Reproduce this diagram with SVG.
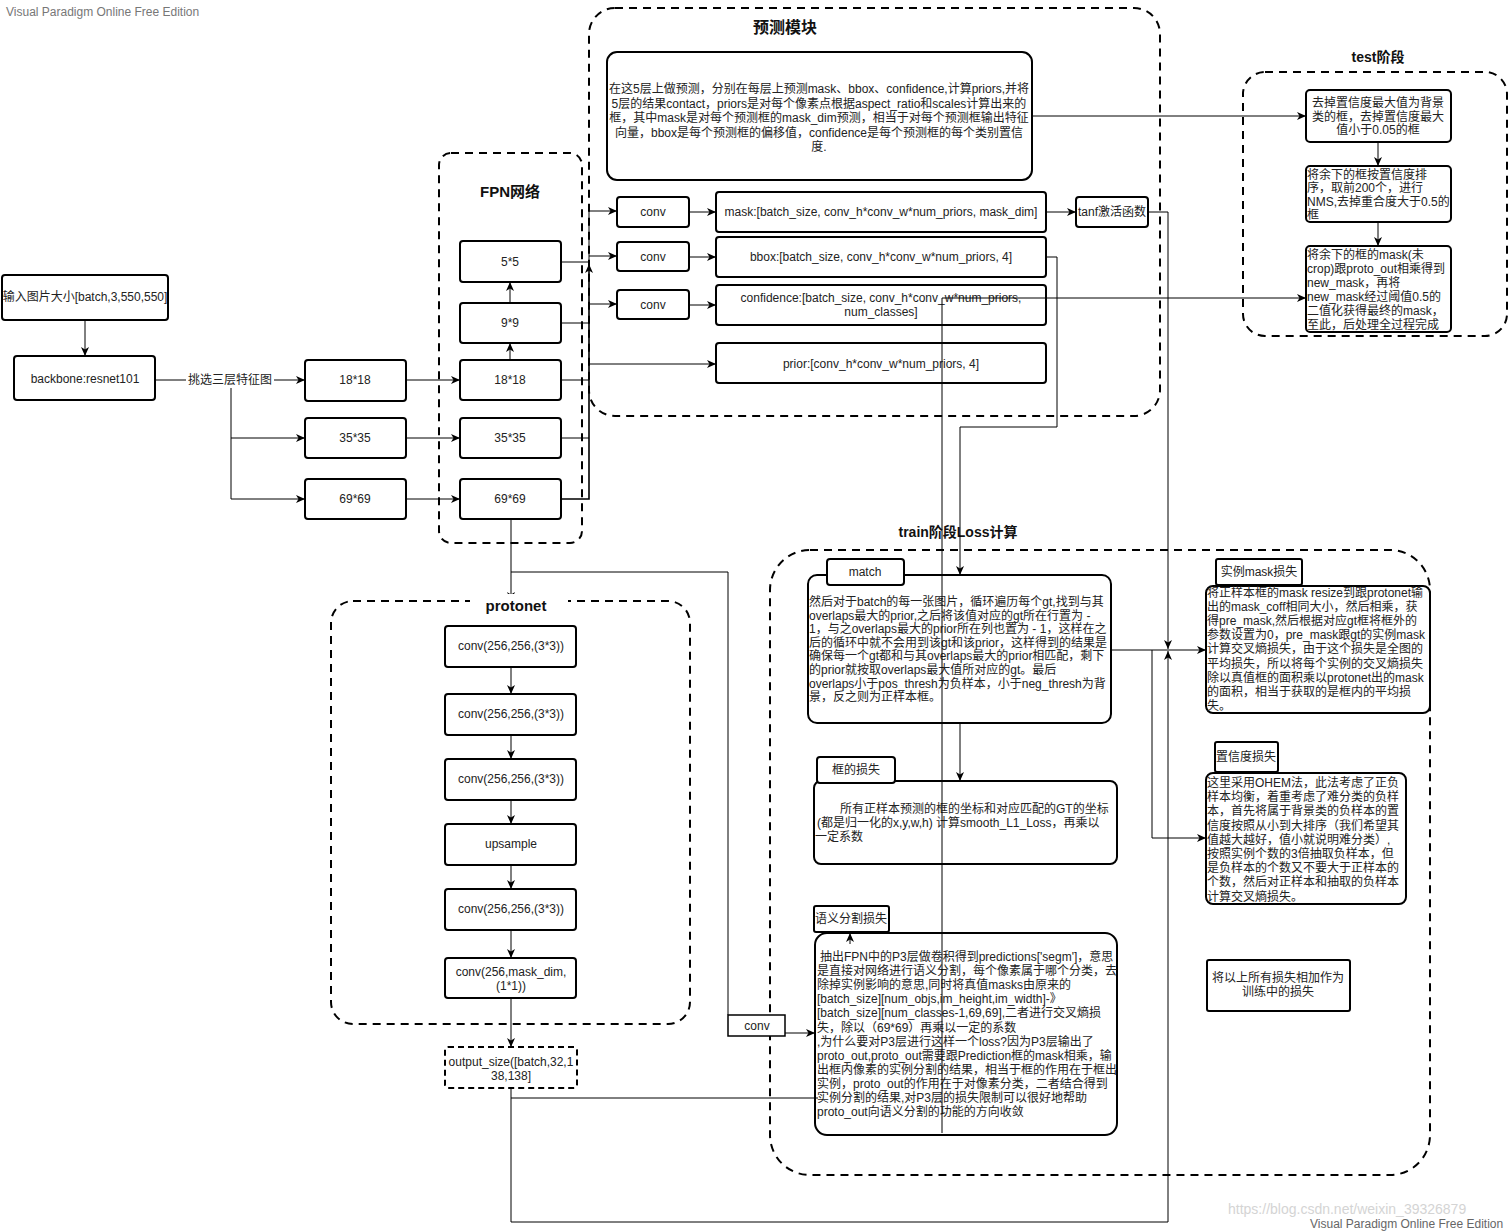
<svg xmlns="http://www.w3.org/2000/svg" width="1508" height="1232" viewBox="0 0 1508 1232">
<style>
.t{font-family:"Liberation Sans","Noto Sans CJK SC",sans-serif;font-size:12px;fill:#222}
.m{text-anchor:middle}
.h{font-weight:bold;fill:#111}
.box{fill:#fff;stroke:#000;stroke-width:2}
.dash{fill:none;stroke:#000;stroke-width:2;stroke-dasharray:8 6}
.ln{fill:none;stroke:#000;stroke-width:1}
.wm{font-family:"Liberation Sans",sans-serif;font-size:12px;fill:#777}
</style>
<defs>
<marker id="a" markerWidth="10" markerHeight="8" refX="9" refY="4" orient="auto" markerUnits="userSpaceOnUse"><path d="M0,0 L9,4 L0,8 L2.5,4 z" fill="#000"/></marker>
</defs>
<rect width="1508" height="1232" fill="#fff"/>
<text class="wm" x="6" y="16">Visual Paradigm Online Free Edition</text>

<!-- containers -->
<g id="fpn-group">
<rect class="dash" x="439" y="153" width="143" height="390" rx="12"/>
<text class="t h m" x="510" y="197" style="font-size:15px">FPN网络</text>
</g>
<g id="predict-group">
<rect class="dash" x="589" y="8" width="571" height="408" rx="26"/>
<text class="t h m" x="785" y="33" style="font-size:16px">预测模块</text>
</g>
<g id="test-group">
<rect class="dash" x="1243" y="72" width="264" height="264" rx="22"/>
<text class="t h m" x="1378" y="62" style="font-size:14px">test阶段</text>
</g>
<g id="train-group">
<rect class="dash" x="770" y="550" width="660" height="625" rx="40"/>
<text class="t h m" x="958" y="537" style="font-size:14px">train阶段Loss计算</text>
</g>
<g id="protonet-group">
<rect class="dash" x="331" y="601" width="359" height="423" rx="22"/>
</g>

<!-- nodes -->
<g id="input"><rect class="box" x="2" y="275" width="166" height="45" rx="3"/><text class="t m" x="85" y="301">输入图片大小[batch,3,550,550]</text></g>
<g id="backbone"><rect class="box" x="14" y="356" width="141" height="44" rx="3"/><text class="t m" x="85" y="383">backbone:resnet101</text></g>
<g id="c18"><rect class="box" x="305" y="360" width="101" height="41" rx="3"/><text class="t m" x="355" y="384">18*18</text></g>
<g id="c35"><rect class="box" x="305" y="418" width="101" height="40" rx="3"/><text class="t m" x="355" y="442">35*35</text></g>
<g id="c69"><rect class="box" x="305" y="479" width="101" height="40" rx="3"/><text class="t m" x="355" y="503">69*69</text></g>
<g id="p5"><rect class="box" x="460" y="241" width="101" height="41" rx="3"/><text class="t m" x="510" y="266">5*5</text></g>
<g id="p9"><rect class="box" x="460" y="303" width="101" height="40" rx="3"/><text class="t m" x="510" y="327">9*9</text></g>
<g id="p18"><rect class="box" x="460" y="360" width="101" height="40" rx="3"/><text class="t m" x="510" y="384">18*18</text></g>
<g id="p35"><rect class="box" x="460" y="418" width="101" height="40" rx="3"/><text class="t m" x="510" y="442">35*35</text></g>
<g id="p69"><rect class="box" x="460" y="479" width="101" height="40" rx="3"/><text class="t m" x="510" y="503">69*69</text></g>

<g id="desc"><rect class="box" x="607" y="52" width="425" height="128" rx="10"/>
<text class="t m" x="819" y="93">在这5层上做预测，分别在每层上预测mask、bbox、confidence,计算priors,并将</text>
<text class="t m" x="819" y="107.5">5层的结果contact，priors是对每个像素点根据aspect_ratio和scales计算出来的</text>
<text class="t m" x="819" y="122">框，其中mask是对每个预测框的mask_dim预测，相当于对每个预测框输出特征</text>
<text class="t m" x="819" y="136.5">向量，bbox是每个预测框的偏移值，confidence是每个预测框的每个类别置信</text>
<text class="t m" x="819" y="151">度.</text>
</g>
<g id="conv1"><rect class="box" x="617" y="197" width="72" height="30" rx="3"/><text class="t m" x="653" y="216">conv</text></g>
<g id="conv2"><rect class="box" x="617" y="242" width="72" height="29" rx="3"/><text class="t m" x="653" y="261">conv</text></g>
<g id="conv3"><rect class="box" x="617" y="290" width="72" height="29" rx="3"/><text class="t m" x="653" y="309">conv</text></g>
<g id="maskout"><rect class="box" x="716" y="192" width="330" height="40" rx="3"/><text class="t m" x="881" y="216">mask:[batch_size, conv_h*conv_w*num_priors, mask_dim]</text></g>
<g id="bboxout"><rect class="box" x="716" y="237" width="330" height="40" rx="3"/><text class="t m" x="881" y="261">bbox:[batch_size, conv_h*conv_w*num_priors, 4]</text></g>
<g id="confout"><rect class="box" x="716" y="285" width="330" height="40" rx="3"/><text class="t m" x="881" y="302">confidence:[batch_size, conv_h*conv_w*num_priors,</text><text class="t m" x="881" y="316">num_classes]</text></g>
<g id="priorout"><rect class="box" x="716" y="343" width="330" height="40" rx="3"/><text class="t m" x="881" y="368">prior:[conv_h*conv_w*num_priors, 4]</text></g>
<g id="tanh"><rect class="box" x="1076" y="197" width="72" height="30" rx="3"/><text class="t m" x="1112" y="216">tanf激活函数</text></g>

<g id="test1"><rect class="box" x="1306" y="90" width="145" height="52" rx="4"/>
<text class="t m" x="1378" y="107">去掉置信度最大值为背景</text><text class="t m" x="1378" y="121">类的框，去掉置信度最大</text><text class="t m" x="1378" y="134">值小于0.05的框</text></g>
<g id="test2"><rect class="box" x="1306" y="166" width="145" height="56" rx="4"/>
<text class="t" x="1307" y="179">将余下的框按置信度排</text><text class="t" x="1307" y="192">序，取前200个，进行</text><text class="t" x="1307" y="206">NMS,去掉重合度大于0.5的</text><text class="t" x="1307" y="219">框</text></g>
<g id="test3"><rect class="box" x="1306" y="246" width="145" height="86" rx="4"/>
<text class="t" x="1307" y="259">将余下的框的mask(未</text><text class="t" x="1307" y="273">crop)跟proto_out相乘得到</text><text class="t" x="1307" y="287">new_mask，再将</text><text class="t" x="1307" y="301">new_mask经过阈值0.5的</text><text class="t" x="1307" y="315">二值化获得最终的mask，</text><text class="t" x="1307" y="329">至此，后处理全过程完成</text></g>

<g id="pr1"><rect class="box" x="445" y="626" width="131" height="41" rx="3"/><text class="t m" x="511" y="650">conv(256,256,(3*3))</text></g>
<g id="pr2"><rect class="box" x="445" y="694" width="131" height="41" rx="3"/><text class="t m" x="511" y="718">conv(256,256,(3*3))</text></g>
<g id="pr3"><rect class="box" x="445" y="759" width="131" height="41" rx="3"/><text class="t m" x="511" y="783">conv(256,256,(3*3))</text></g>
<g id="pr4"><rect class="box" x="445" y="824" width="131" height="41" rx="3"/><text class="t m" x="511" y="848">upsample</text></g>
<g id="pr5"><rect class="box" x="445" y="889" width="131" height="41" rx="3"/><text class="t m" x="511" y="913">conv(256,256,(3*3))</text></g>
<g id="pr6"><rect class="box" x="445" y="958" width="131" height="40" rx="3"/><text class="t m" x="511" y="976">conv(256,mask_dim,</text><text class="t m" x="511" y="990">(1*1))</text></g>
<g id="outsize"><rect x="445" y="1047" width="132" height="41" rx="3" fill="#fff" stroke="#000" stroke-width="2" stroke-dasharray="6 4"/><text class="t m" x="511" y="1066">output_size([batch,32,1</text><text class="t m" x="511" y="1080">38,138]</text></g>

<g id="match"><rect class="box" x="808" y="575" width="303" height="148" rx="9"/>
<rect class="box" x="827" y="559" width="77" height="26" rx="3"/><text class="t m" x="865" y="576">match</text>
<text class="t" x="809" y="606">然后对于batch的每一张图片，循环遍历每个gt,找到与其</text>
<text class="t" x="809" y="619.6">overlaps最大的prior,之后将该值对应的gt所在行置为 -</text>
<text class="t" x="809" y="633.2">1，与之overlaps最大的prior所在列也置为 - 1，这样在之</text>
<text class="t" x="809" y="646.8">后的循环中就不会用到该gt和该prior，这样得到的结果是</text>
<text class="t" x="809" y="660.4">确保每一个gt都和与其overlaps最大的prior相匹配，剩下</text>
<text class="t" x="809" y="674">的prior就按取overlaps最大值所对应的gt。最后</text>
<text class="t" x="809" y="687.6">overlaps小于pos_thresh为负样本，小于neg_thresh为背</text>
<text class="t" x="809" y="701.2">景，反之则为正样本框。</text>
</g>
<g id="boxloss"><rect class="box" x="814" y="781" width="303" height="83" rx="7"/>
<rect class="box" x="817" y="757" width="78" height="26" rx="3"/><text class="t m" x="856" y="774">框的损失</text>
<text class="t" x="840" y="813">所有正样本预测的框的坐标和对应匹配的GT的坐标</text>
<text class="t" x="817" y="827">(都是归一化的x,y,w,h) 计算smooth_L1_Loss，再乘以</text>
<text class="t" x="815" y="841">一定系数</text>
</g>
<g id="segloss"><rect class="box" x="815" y="933" width="302" height="202" rx="12"/>
<rect class="box" x="814" y="906" width="75" height="26" rx="2"/><text class="t m" x="851" y="923">语义分割损失</text>
<text class="t" x="820" y="961">抽出FPN中的P3层做卷积得到predictions['segm']，意思</text>
<text class="t" x="817" y="975.1">是直接对网络进行语义分割，每个像素属于哪个分类，去</text>
<text class="t" x="817" y="989.2">除掉实例影响的意思,同时将真值masks由原来的</text>
<text class="t" x="817" y="1003.3">[batch_size][num_objs,im_height,im_width]-》</text>
<text class="t" x="817" y="1017.4">[batch_size][num_classes-1,69,69],二者进行交叉熵损</text>
<text class="t" x="817" y="1031.5">失，除以（69*69）再乘以一定的系数</text>
<text class="t" x="817" y="1045.6">,为什么要对P3层进行这样一个loss?因为P3层输出了</text>
<text class="t" x="817" y="1059.7">proto_out,proto_out需要跟Prediction框的mask相乘，输</text>
<text class="t" x="817" y="1073.8">出框内像素的实例分割的结果，相当于框的作用在于框出</text>
<text class="t" x="817" y="1087.9">实例，proto_out的作用在于对像素分类，二者结合得到</text>
<text class="t" x="817" y="1102">实例分割的结果,对P3层的损失限制可以很好地帮助</text>
<text class="t" x="817" y="1116.1">proto_out向语义分割的功能的方向收敛</text>
</g>
<g id="maskloss"><rect class="box" x="1206" y="586" width="224" height="127" rx="7"/>
<rect class="box" x="1216" y="559" width="86" height="26" rx="2"/><text class="t m" x="1259" y="576">实例mask损失</text>
<text class="t" x="1207" y="597">将正样本框的mask resize到跟protonet输</text>
<text class="t" x="1207" y="611.1">出的mask_coff相同大小，然后相乘，获</text>
<text class="t" x="1207" y="625.2">得pre_mask,然后根据对应gt框将框外的</text>
<text class="t" x="1207" y="639.3">参数设置为0，pre_mask跟gt的实例mask</text>
<text class="t" x="1207" y="653.4">计算交叉熵损失，由于这个损失是全图的</text>
<text class="t" x="1207" y="667.5">平均损失，所以将每个实例的交叉熵损失</text>
<text class="t" x="1207" y="681.6">除以真值框的面积乘以protonet出的mask</text>
<text class="t" x="1207" y="695.7">的面积，相当于获取的是框内的平均损</text>
<text class="t" x="1207" y="709.8">失。</text>
</g>
<g id="confloss"><rect class="box" x="1206" y="773" width="200" height="131" rx="7"/>
<rect class="box" x="1215" y="742" width="63" height="30" rx="2"/><text class="t m" x="1246" y="761">置信度损失</text>
<text class="t" x="1207" y="787">这里采用OHEM法，此法考虑了正负</text>
<text class="t" x="1207" y="801.2">样本均衡，着重考虑了难分类的负样</text>
<text class="t" x="1207" y="815.4">本，首先将属于背景类的负样本的置</text>
<text class="t" x="1207" y="829.6">信度按照从小到大排序（我们希望其</text>
<text class="t" x="1207" y="843.8">值越大越好，值小就说明难分类）,</text>
<text class="t" x="1207" y="858">按照实例个数的3倍抽取负样本，但</text>
<text class="t" x="1207" y="872.2">是负样本的个数又不要大于正样本的</text>
<text class="t" x="1207" y="886.4">个数，然后对正样本和抽取的负样本</text>
<text class="t" x="1207" y="900.6">计算交叉熵损失。</text>
</g>
<g id="total"><rect class="box" x="1207" y="960" width="143" height="51" rx="2"/>
<text class="t m" x="1278" y="982">将以上所有损失相加作为</text><text class="t m" x="1278" y="996">训练中的损失</text></g>
<g id="segconv"><rect x="728" y="1015" width="57" height="21" fill="#fff" stroke="#000" stroke-width="1.5"/><text class="t m" x="757" y="1030">conv</text></g>

<!-- connectors -->
<g id="connectors" class="ln">
<path class="ln" d="M85,320 V356" marker-end="url(#a)"/>
<path class="ln" d="M155,380 H305" marker-end="url(#a)"/>
<path class="ln" d="M231,380 V499 H305" marker-end="url(#a)"/>
<path class="ln" d="M231,438 H305" marker-end="url(#a)"/>
<path class="ln" d="M406,380 H460" marker-end="url(#a)"/>
<path class="ln" d="M406,438 H460" marker-end="url(#a)"/>
<path class="ln" d="M406,499 H460" marker-end="url(#a)"/>
<path class="ln" d="M510,360 V343" marker-end="url(#a)"/>
<path class="ln" d="M510,303 V282" marker-end="url(#a)"/>
<path class="ln" d="M561,262 H589 V211 H617" marker-end="url(#a)"/>
<path class="ln" d="M561,323 H589"/>
<path class="ln" d="M561,380 H589"/>
<path class="ln" d="M561,438 H589"/>
<path class="ln" d="M561,499 H589 V264" marker-end="url(#a)" style="stroke-width:1.6"/>
<path class="ln" d="M589,256 H617" marker-end="url(#a)"/>
<path class="ln" d="M589,304 H617" marker-end="url(#a)"/>
<path class="ln" d="M589,364 H716" marker-end="url(#a)"/>
<path class="ln" d="M689,212 H716" marker-end="url(#a)"/>
<path class="ln" d="M689,257 H716" marker-end="url(#a)"/>
<path class="ln" d="M689,305 H716" marker-end="url(#a)"/>
<path class="ln" d="M1046,212 H1076" marker-end="url(#a)"/>
<path class="ln" d="M1148,212 H1168 V649" marker-end="url(#a)"/>
<path class="ln" d="M1032,116 H1306" marker-end="url(#a)"/>
<path class="ln" d="M1378,142 V166" marker-end="url(#a)"/>
<path class="ln" d="M1378,222 V246" marker-end="url(#a)"/>
<path class="ln" d="M942,1133 V298 H1306" marker-end="url(#a)"/>
<path class="ln" d="M1046,257 H1057 V427 H960 V575" marker-end="url(#a)"/>
<path class="ln" d="M960,723 V781" marker-end="url(#a)"/>
<path class="ln" d="M1111,650 H1206" marker-end="url(#a)"/>
<path class="ln" d="M1152,650 V838 H1206" marker-end="url(#a)"/>
<path class="ln" d="M511,519 V601" marker-end="url(#a)"/>
<path class="ln" d="M511,572 H728 V1015"/>
<path class="ln" d="M785,1033 H815" marker-end="url(#a)"/>
<path class="ln" d="M511,667 V694" marker-end="url(#a)"/>
<path class="ln" d="M511,735 V759" marker-end="url(#a)"/>
<path class="ln" d="M511,800 V824" marker-end="url(#a)"/>
<path class="ln" d="M511,865 V889" marker-end="url(#a)"/>
<path class="ln" d="M511,930 V958" marker-end="url(#a)"/>
<path class="ln" d="M511,998 V1047" marker-end="url(#a)"/>
<path class="ln" d="M511,1088 V1222 H1168 V651" marker-end="url(#a)"/>
<path class="ln" d="M511,1098 H818"/>
<path class="ln" d="M850,944 V933" marker-end="url(#a)"/>
</g>

<!-- labels over connectors -->
<g id="labels">
<rect x="186" y="372" width="88" height="16" fill="#fff"/>
<text class="t m" x="230" y="384">挑选三层特征图</text>
<rect x="470" y="594" width="98" height="20" fill="#fff"/>
<text class="t h m" x="516" y="611" style="font-size:15px">protonet</text>
</g>
<text x="1228" y="1214" style="font-family:'Liberation Sans',sans-serif;font-size:14px;fill:#d4d4d4">https://blog.csdn.net/weixin_39326879</text>
<text class="wm" x="1310" y="1228" style="fill:#666">Visual Paradigm Online Free Edition</text>
</svg>
